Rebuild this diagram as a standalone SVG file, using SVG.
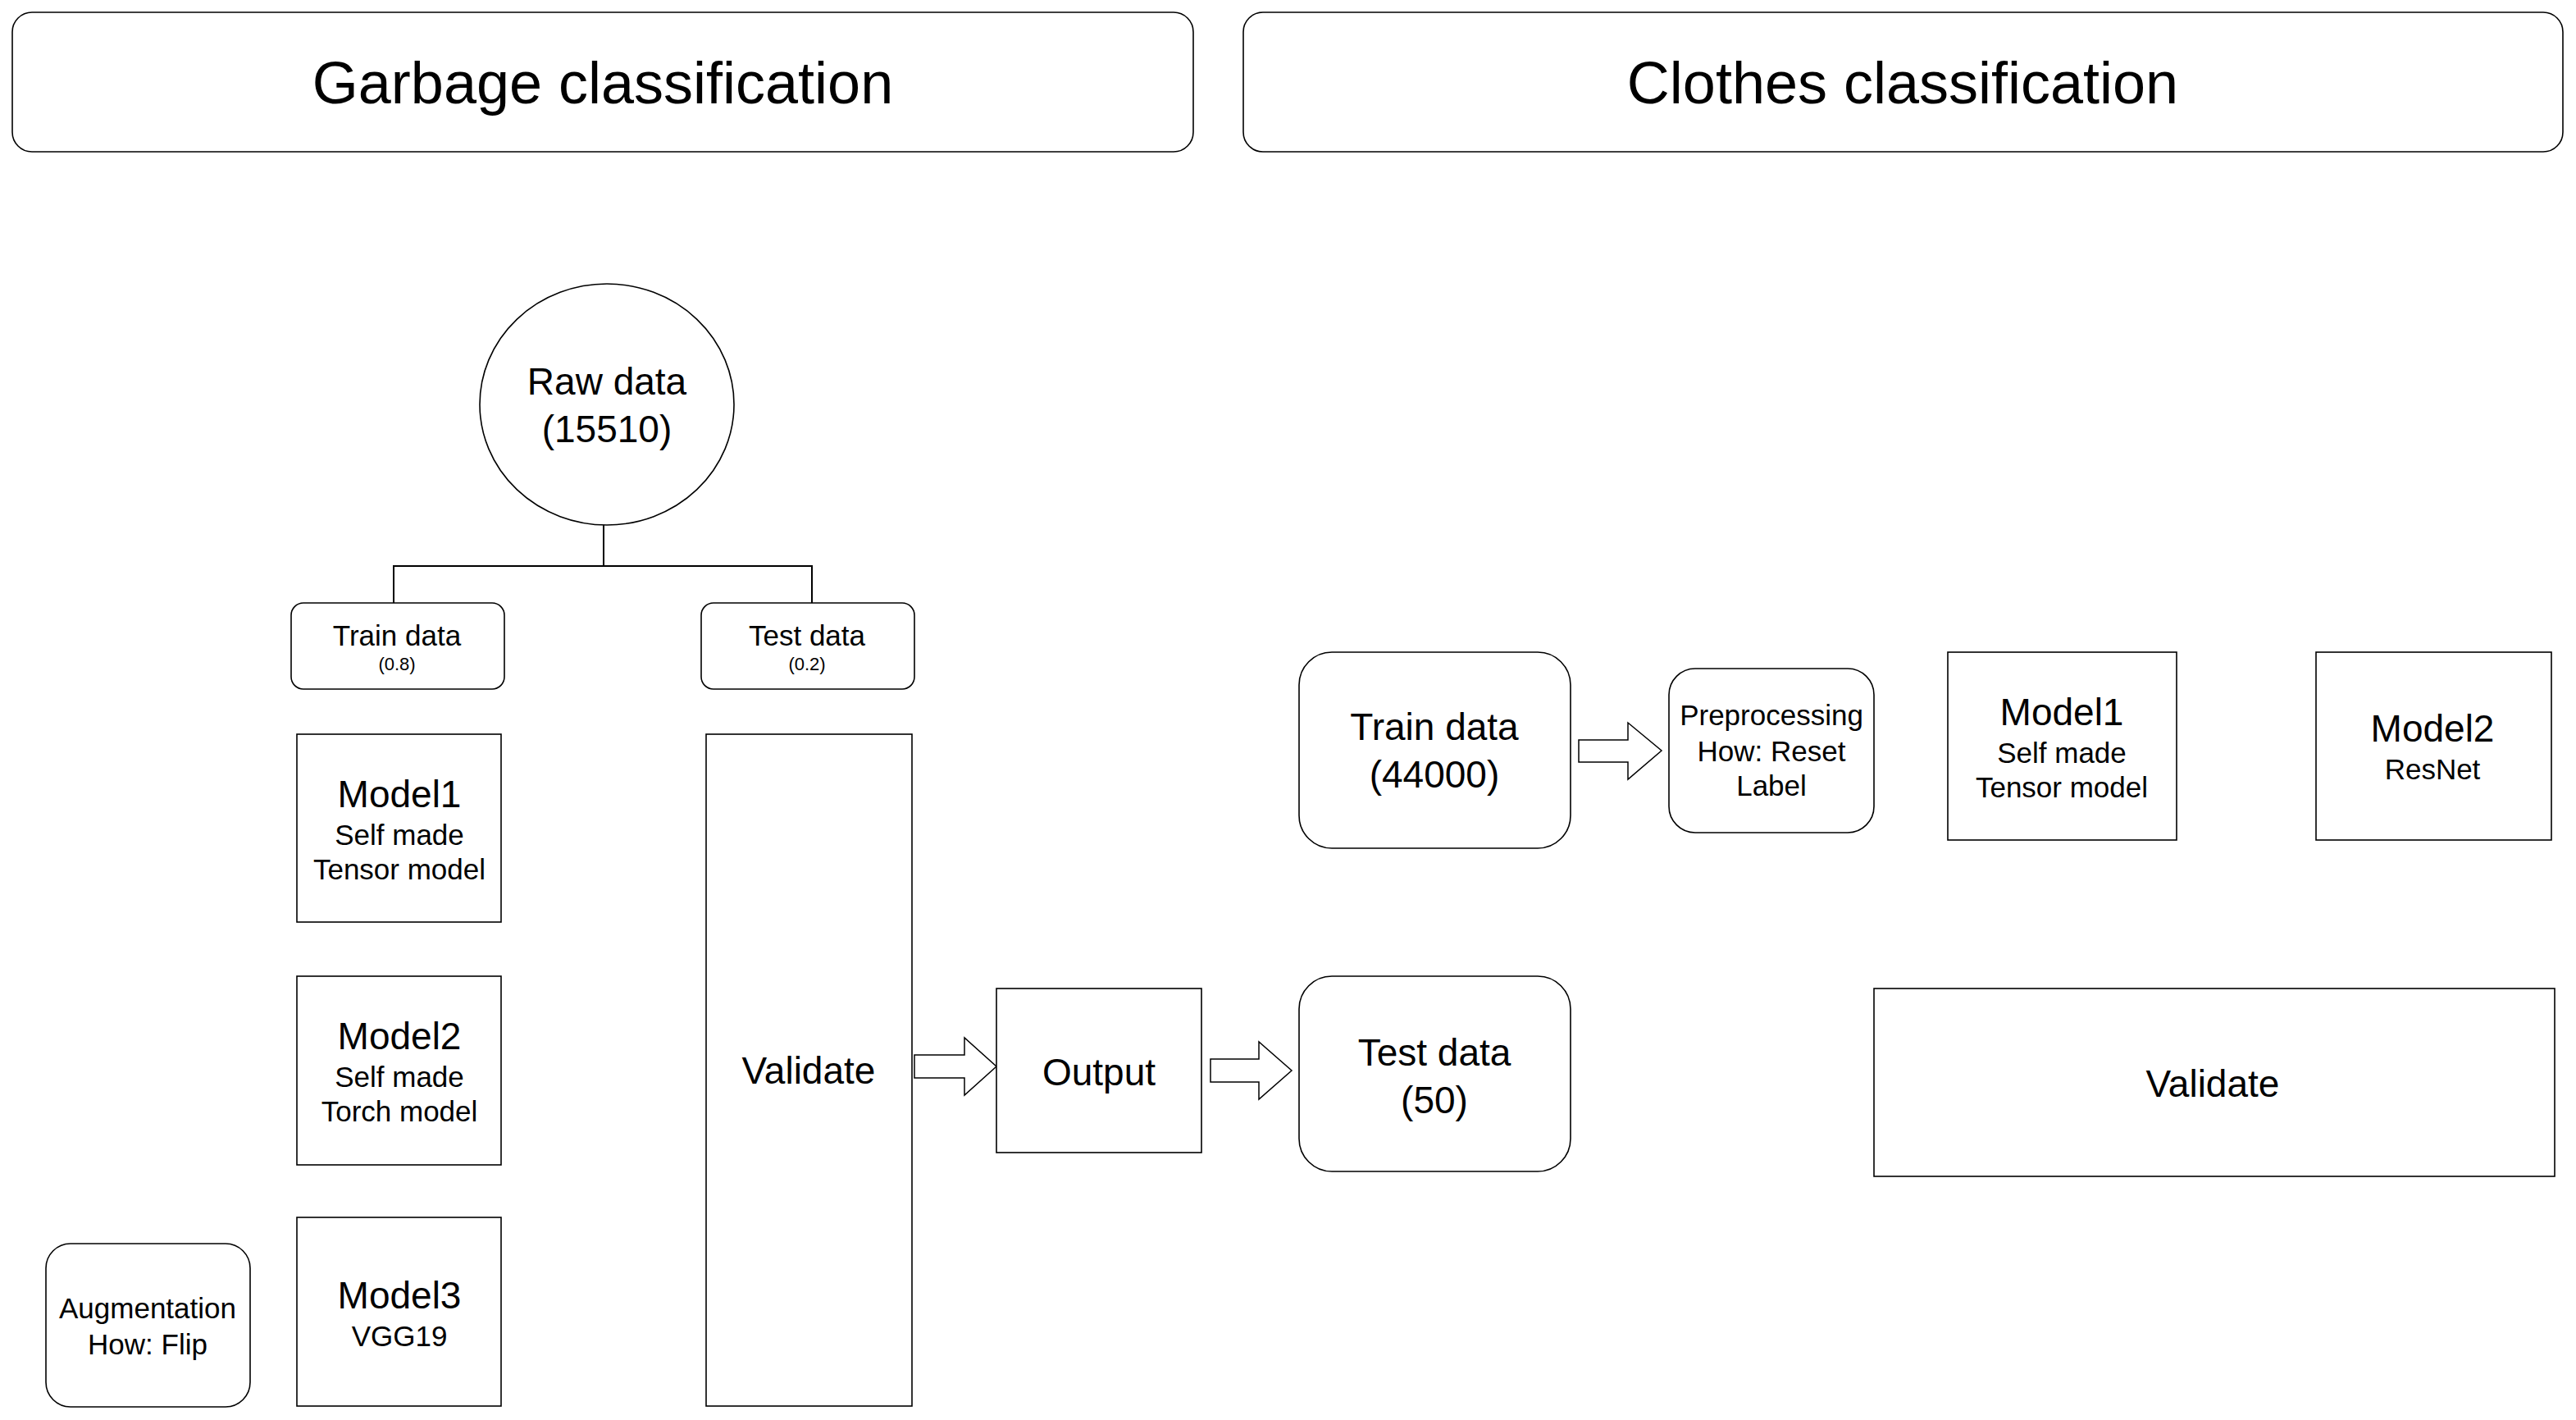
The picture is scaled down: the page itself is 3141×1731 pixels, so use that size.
<svg xmlns="http://www.w3.org/2000/svg" width="3141" height="1731" viewBox="0 0 3141 1731">
<style>
  .box { fill: #ffffff; stroke: #000000; stroke-width: 1.6; }
  .arrow { fill: #ffffff; stroke: #000000; stroke-width: 1.5; stroke-linejoin: miter; }
  .conn { fill: none; stroke: #000000; stroke-width: 2; }
  text { font-family: "Liberation Sans", Arial, Helvetica, sans-serif; fill: #000000; text-anchor: middle; }
  .title { font-size: 72px; }
  .big { font-size: 46px; }
  .mid { font-size: 35px; }
  .small { font-size: 22px; }
</style>
<rect x="0" y="0" width="3141" height="1731" fill="#ffffff"/>

<g id="garbage-title">
  <rect class="box" x="15" y="15" width="1440" height="170" rx="24"/>
  <text class="title" x="735" y="126">Garbage classification</text>
</g>
<g id="clothes-title">
  <rect class="box" x="1516" y="15" width="1609" height="170" rx="24"/>
  <text class="title" x="2320" y="126">Clothes classification</text>
</g>

<g id="connectors">
  <polyline class="conn" points="736,640 736,690 480,690 480,740"/>
  <polyline class="conn" points="736,690 990,690 990,735"/>
</g>

<g id="raw-data">
  <ellipse class="box" cx="740" cy="493" rx="155" ry="147"/>
  <text class="big" x="740" y="481">Raw data</text>
  <text class="big" x="740" y="539">(15510)</text>
</g>

<g id="train-data-left">
  <rect class="box" x="355" y="735" width="260" height="105" rx="15"/>
  <text class="mid" x="484" y="787">Train data</text>
  <text class="small" x="484" y="817">(0.8)</text>
</g>
<g id="test-data-left">
  <rect class="box" x="855" y="735" width="260" height="105" rx="15"/>
  <text class="mid" x="984" y="787">Test data</text>
  <text class="small" x="984" y="817">(0.2)</text>
</g>

<g id="model1-left">
  <rect class="box" x="362" y="895" width="249" height="229"/>
  <text class="big" x="487" y="984">Model1</text>
  <text class="mid" x="487" y="1030">Self made</text>
  <text class="mid" x="487" y="1072">Tensor model</text>
</g>
<g id="model2-left">
  <rect class="box" x="362" y="1190" width="249" height="230"/>
  <text class="big" x="487" y="1279">Model2</text>
  <text class="mid" x="487" y="1325">Self made</text>
  <text class="mid" x="487" y="1367">Torch model</text>
</g>
<g id="model3-left">
  <rect class="box" x="362" y="1484" width="249" height="230"/>
  <text class="big" x="487" y="1595">Model3</text>
  <text class="mid" x="487" y="1641">VGG19</text>
</g>
<g id="augmentation">
  <rect class="box" x="56" y="1516" width="249" height="199" rx="30"/>
  <text class="mid" x="180" y="1607">Augmentation</text>
  <text class="mid" x="180" y="1651">How: Flip</text>
</g>

<g id="validate-left">
  <rect class="box" x="861" y="895" width="251" height="819"/>
  <text class="big" x="986" y="1321">Validate</text>
</g>

<g id="arrow-validate-output">
  <polygon class="arrow" points="1115,1286 1176,1286 1176,1265 1215,1300 1176,1335 1176,1314 1115,1314"/>
</g>

<g id="output">
  <rect class="box" x="1215" y="1205" width="250" height="200"/>
  <text class="big" x="1340" y="1323">Output</text>
</g>

<g id="arrow-output-test">
  <polygon class="arrow" points="1476,1291 1535,1291 1535,1270 1575,1305 1535,1340 1535,1319 1476,1319"/>
</g>

<g id="test-data-right">
  <rect class="box" x="1584" y="1190" width="331" height="238" rx="40"/>
  <text class="big" x="1749" y="1299">Test data</text>
  <text class="big" x="1749" y="1357">(50)</text>
</g>

<g id="train-data-right">
  <rect class="box" x="1584" y="795" width="331" height="239" rx="40"/>
  <text class="big" x="1749" y="902">Train data</text>
  <text class="big" x="1749" y="960">(44000)</text>
</g>

<g id="arrow-train-preprocessing">
  <polygon class="arrow" points="1925,902 1985,902 1985,881 2026,915 1985,950 1985,929 1925,929"/>
</g>

<g id="preprocessing">
  <rect class="box" x="2035" y="815" width="250" height="200" rx="32"/>
  <text class="mid" x="2160" y="884">Preprocessing</text>
  <text class="mid" x="2160" y="928">How: Reset</text>
  <text class="mid" x="2160" y="970">Label</text>
</g>

<g id="model1-right">
  <rect class="box" x="2375" y="795" width="279" height="229"/>
  <text class="big" x="2514" y="884">Model1</text>
  <text class="mid" x="2514" y="930">Self made</text>
  <text class="mid" x="2514" y="972">Tensor model</text>
</g>
<g id="model2-right">
  <rect class="box" x="2824" y="795" width="287" height="229"/>
  <text class="big" x="2966" y="904">Model2</text>
  <text class="mid" x="2966" y="950">ResNet</text>
</g>

<g id="validate-right">
  <rect class="box" x="2285" y="1205" width="830" height="229"/>
  <text class="big" x="2698" y="1337">Validate</text>
</g>
</svg>
